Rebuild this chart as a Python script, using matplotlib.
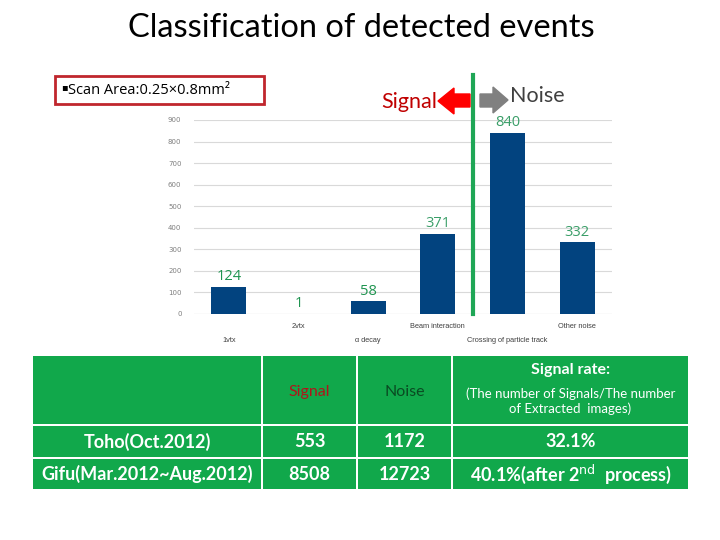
import matplotlib
matplotlib.use("Agg")
import matplotlib.pyplot as plt
from matplotlib.patches import Rectangle, Polygon

categories = ["1vtx", "2vtx", "α decay", "Beam interaction", "Crossing of particle track", "Other noise"]
counts = [124, 1, 58, 371, 840, 332]
y_ticks = [0, 100, 200, 300, 400, 500, 600, 700, 800, 900]

table_cols = ["", "Signal", "Noise", "Signal rate:"]
row_labels = ["Toho(Oct.2012)", "Gifu(Mar.2012~Aug.2012)"]
signal_counts = ["553", "8508"]
noise_counts = ["1172", "12723"]
signal_rates = ["32.1%", "40.1%(after 2$^{\\rm nd}$  process)"]

W, H = 720, 540
PT = 72 / 100  # points per pixel
fig = plt.figure(figsize=(7.2, 5.4), dpi=100)
fig.patch.set_facecolor("white")
FONT = ["Lato", "DejaVu Sans"]

# Bar chart axes
ax = fig.add_axes([194 / W, 1 - 314 / H, 418 / W, 194 / H])
x = list(range(len(categories)))
ax.bar(x, counts, width=0.5, color="#02437f", zorder=3)
ax.set_xlim(-0.5, 5.5)
ax.set_ylim(0, 900)
ax.set_yticks(y_ticks)
ax.tick_params(axis="y", labelsize=5, colors="#7f7f7f", length=0, pad=9)
ax.tick_params(axis="x", length=0)
ax.set_xticks([])
ax.yaxis.grid(True, color="#d9d9d9", linewidth=0.8, zorder=0)
for s in ax.spines.values():
    s.set_visible(False)
ax.axhline(0, color="#d9d9d9", linewidth=0.8, zorder=1)
label_colors = ["#1f9450", "#1f9450", "#1f9450", "#3a9e68", "#3a9e68", "#3a9e68"]
for i, (c, v) in enumerate(zip(categories, counts)):
    ypix = 13 if i % 2 == 1 else 26
    ax.annotate(c, (i, 0), xytext=(0, -ypix * PT), textcoords="offset points",
                ha="center", va="center", fontsize=5.3, color="#404040",
                family=["Liberation Sans", "DejaVu Sans"])
    ax.annotate(str(v), (i, v), xytext=(0, 2), textcoords="offset points",
                ha="center", va="bottom", fontsize=10.5, color=label_colors[i],
                family=["Open Sans", "DejaVu Sans"], zorder=5)
# Divider line between Beam interaction and Crossing
ax.plot([3.5, 3.5], [0, 1.232 * 900], color="#1fa656", linewidth=3,
        clip_on=False, zorder=4)

# Overlay axes in pixel coordinates
ov = fig.add_axes([0, 0, 1, 1], zorder=10)
ov.set_xlim(0, W)
ov.set_ylim(H, 0)
ov.axis("off")
ov.patch.set_alpha(0)

ov.text(361, 28, "Classification of detected events", ha="center", va="center",
        fontsize=23.5, color="black", family=FONT)

ov.add_patch(Rectangle((55, 76), 209, 28, fill=False, edgecolor="#c0262d", linewidth=2))
ov.text(61, 90, "▪", ha="left", va="baseline", fontsize=7, color="black",
        family=["DejaVu Sans"])
ov.text(68, 91, "Scan Area:0.25×0.8mm²", ha="left", va="center",
        fontsize=10.5, color="black", family=["Open Sans", "DejaVu Sans"])

# Arrows
ov.add_patch(Polygon([[470, 94], [454, 94], [454, 88], [438, 101], [454, 114],
                      [454, 107], [470, 107]], closed=True, color="#ff0000"))
ov.add_patch(Polygon([[480, 94], [493, 94], [493, 87], [508, 100], [493, 113],
                      [493, 107], [480, 107]], closed=True, color="#808080"))
ov.text(437, 102, "Signal", ha="right", va="center", fontsize=15.5,
        color="#c00000", family=FONT)
ov.text(510, 96, "Noise", ha="left", va="center", fontsize=15.5,
        color="#404040", family=FONT)

# Table
green = "#11a84b"
col_x = [32, 262, 357, 452, 689]
row_y = [355, 425, 458, 490]
gap = 1.3
for r in range(3):
    for c in range(4):
        x0, x1 = col_x[c] + gap, col_x[c + 1] - gap
        y0, y1 = row_y[r] + gap, row_y[r + 1] - gap
        ov.add_patch(Rectangle((x0, y0), x1 - x0, y1 - y0, color=green, linewidth=0))

def cx(c):
    return (col_x[c] + col_x[c + 1]) / 2

def cy(r):
    return (row_y[r] + row_y[r + 1]) / 2

ov.text(cx(1), cy(0) + 2, table_cols[1], ha="center", va="center", fontsize=11.5,
        color="#b0151b", family=FONT)
ov.text(cx(2), cy(0) + 2, table_cols[2], ha="center", va="center", fontsize=11.5,
        color="#0a4a22", family=FONT)
ov.text(cx(3), 370, table_cols[3], ha="center", va="center", fontsize=11.5,
        color="white", family=FONT, fontweight="bold")
ov.text(cx(3), 401, "(The number of Signals/The number\nof Extracted  images)", ha="center",
        va="center", fontsize=9.5, color="white", family=FONT, linespacing=1.25)

for r, (lab, s, n, rate) in enumerate(zip(row_labels, signal_counts, noise_counts, signal_rates)):
    yy = cy(r + 1)
    for c, t in enumerate([lab, s, n, rate]):
        ov.text(cx(c), yy, t, ha="center", va="center", fontsize=13,
                color="white", family=FONT, fontweight="bold")

fig.savefig("out.png", dpi=100)
